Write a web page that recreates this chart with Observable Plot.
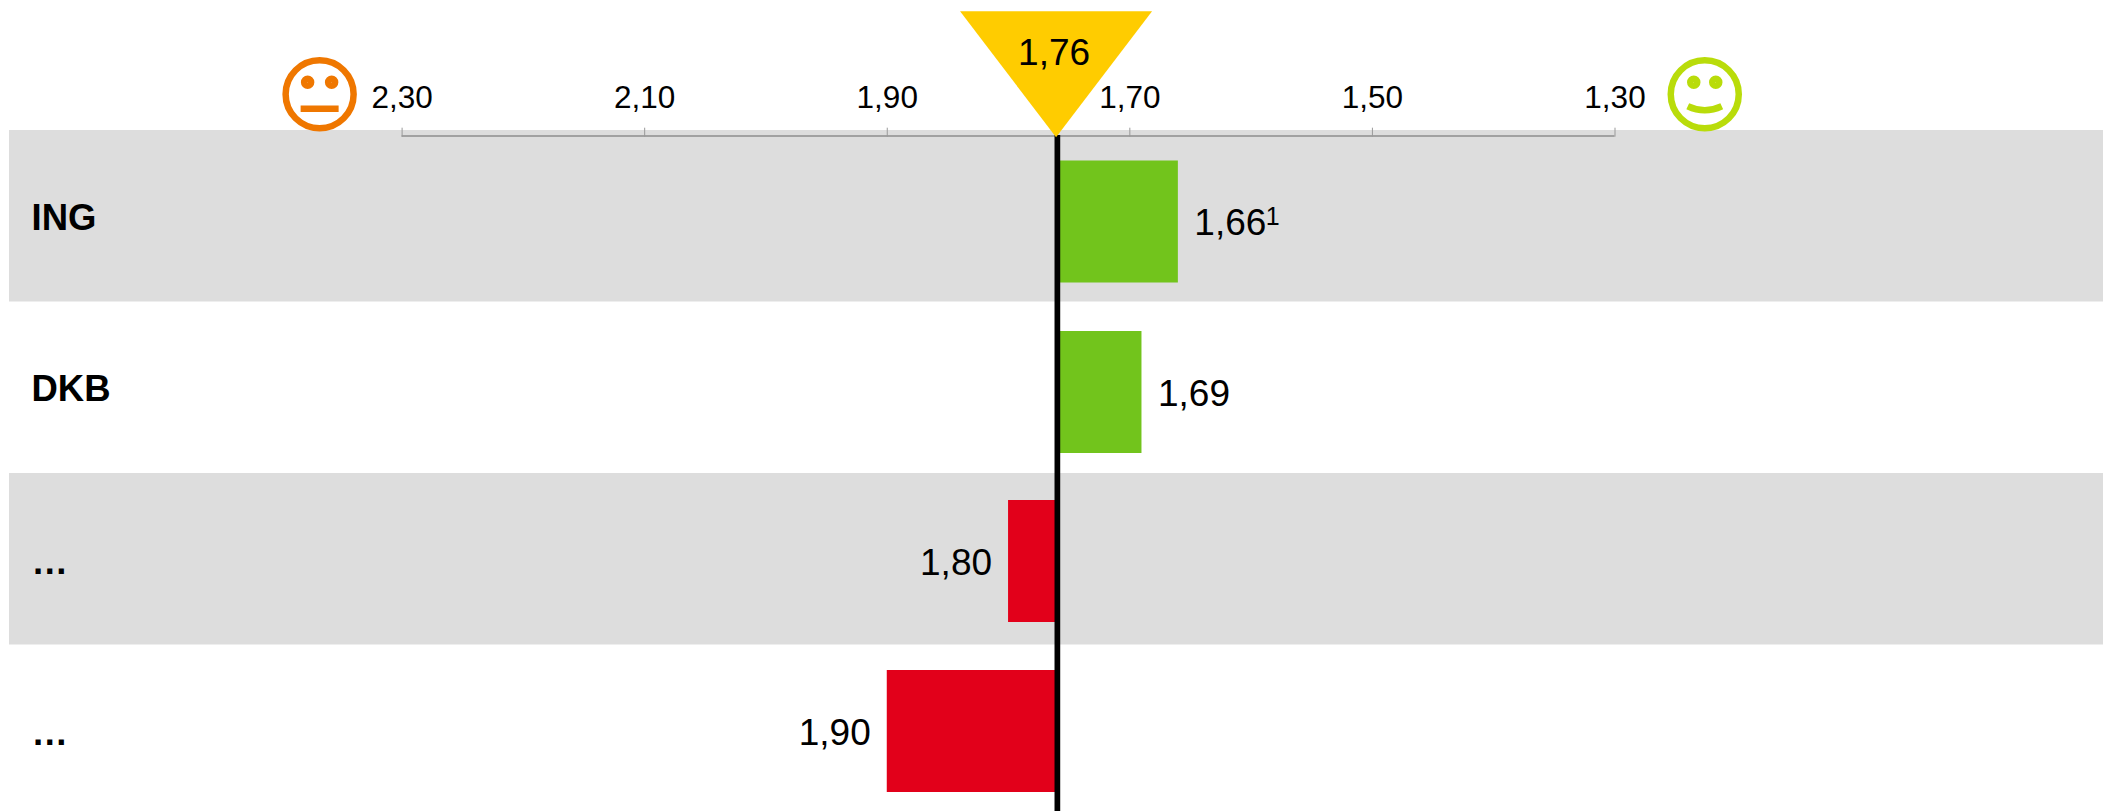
<!DOCTYPE html>
<html lang="de">
<head>
<meta charset="utf-8">
<script src="https://cdn.jsdelivr.net/npm/d3@7"></script>
<script src="https://cdn.jsdelivr.net/npm/@observablehq/plot@0.6"></script>
<style>
html,body{margin:0;padding:0;background:#fff;overflow:hidden}
svg{display:block}
</style>
</head>
<body>
<div id="chart"></div>
<script>
// ---- data ----
const banks = ["ING", "DKB", "…", "…"];
const grades = [1.66, 1.69, 1.80, 1.90];
const notes = ["1", "", "", ""];
const average = 1.76;
const axisTicks = [2.30, 2.10, 1.90, 1.70, 1.50, 1.30];
const worseFaceAt = 2.368;
const betterFaceAt = 1.226;

// ---- table built from the arrays ----
const comma = v => d3.format(".2f")(v).replace(".", ",");
const rows = banks.map((bank, i) => ({row: i, bank, grade: grades[i], label: comma(grades[i]), note: notes[i]}));

// ---- styles ----
const barNudge = [0, -1, -3.5, -5];
const labelNudge = [7, 6.9, 4.4, 2.9];
const nameNudge = [1.7, 1.2, 3.4, 2.9];
const barColour = d => d.grade < average ? "#72c41c" : "#e2001a";

// ---- custom symbols ----
const ring = (c, cx, cy, r) => { c.moveTo(cx + r, cy); c.arc(cx, cy, r, 0, 2 * Math.PI); };
const neutralFace = {draw(c) {
  ring(c, 0, 0, 34);
  ring(c, -12, -12, 3.5); ring(c, 12, -12, 3.5);
  c.moveTo(-19, 14.5); c.lineTo(19, 14.5);
}};
const happyFace = {draw(c) {
  ring(c, 0, 0, 34);
  ring(c, -11, -12, 3.5); ring(c, 11, -12, 3.5);
  c.moveTo(-17, 12); c.quadraticCurveTo(0, 20, 17, 12);
}};
const marker = {draw(c) {
  c.moveTo(-96, 0); c.lineTo(96, 0); c.lineTo(0, 126); c.closePath();
}};

const chart = Plot.plot({
  width: 2107,
  height: 811,
  marginTop: 130,
  marginBottom: 0,
  marginLeft: 9,
  marginRight: 4,
  style: {fontFamily: "'Liberation Sans', Arial, sans-serif", color: "#000", background: "#fff", overflow: "hidden"},
  x: {domain: [2.30, 1.30], range: [401.6, 1614.5], axis: null},
  y: {type: "band", domain: d3.range(banks.length), range: [130, 816], padding: 0, round: false, axis: null},
  marks: [
    // alternating background bands
    Plot.cell(rows.filter(d => d.row % 2 === 0), {y: "row", fill: "#dddddd"}),

    // bars
    ...rows.map(d => Plot.barX([d], {
      x1: () => average, x2: "grade", y: "row",
      fill: barColour(d), insetTop: 30.5, insetBottom: 19, dy: barNudge[d.row]
    })),

    // value labels
    ...rows.map(d => Plot.text([d], {
      x: "grade", y: "row", text: "label", fontSize: 37, fill: "#000",
      textAnchor: d.grade < average ? "start" : "end",
      dx: d.grade < average ? 16 : -16.5, dy: labelNudge[d.row]
    })),

    // footnote marks
    Plot.text(rows.filter(d => d.note), {
      x: "grade", y: "row", text: "note", fontSize: 25, fill: "#000",
      textAnchor: "start", dx: 87.5, dy: 1
    }),

    // bank names
    ...rows.map(d => Plot.text([d], {
      y: "row", text: "bank", fontSize: 36.5, fontWeight: "bold", fill: "#000",
      frameAnchor: "left", textAnchor: "start", dx: 22, dy: nameNudge[d.row]
    })),

    // axis
    Plot.ruleY([0], {x1: () => axisTicks[0], x2: () => axisTicks[axisTicks.length - 1], y: d => d, dy: -80.25, stroke: "#8c8c8c", strokeWidth: 1.7}),
    Plot.axisX({
      anchor: "top", ticks: axisTicks, tickFormat: comma, tickSize: 9, tickPadding: 19,
      dy: 5.7, fontSize: 31.5, stroke: "#999", strokeWidth: 1, color: "#000", fill: "#000", label: null
    }),

    // average line and marker
    Plot.ruleX([average], {stroke: "#000", strokeWidth: 5.7, insetTop: 5, dx: 0.3}),
    Plot.dot([average], {x: d => d, y: () => 0, symbol: () => marker, fill: "#ffcc00", stroke: "none", r: 1, dy: -205, dx: -1}),
    Plot.text([average], {x: d => d, y: () => 0, text: d => comma(d), fontSize: 37, fill: "#000", dy: -163.5, dx: -3}),

    // faces
    Plot.dot([worseFaceAt], {x: d => d, y: () => 0, symbol: () => neutralFace, fill: "none", stroke: "#ef7700", strokeWidth: 6.5, r: 1, dy: -122}),
    Plot.dot([betterFaceAt], {x: d => d, y: () => 0, symbol: () => happyFace, fill: "none", stroke: "#b9dc0a", strokeWidth: 6.5, r: 1, dy: -122})
  ]
});
document.getElementById("chart").append(chart);
</script>
</body>
</html>
